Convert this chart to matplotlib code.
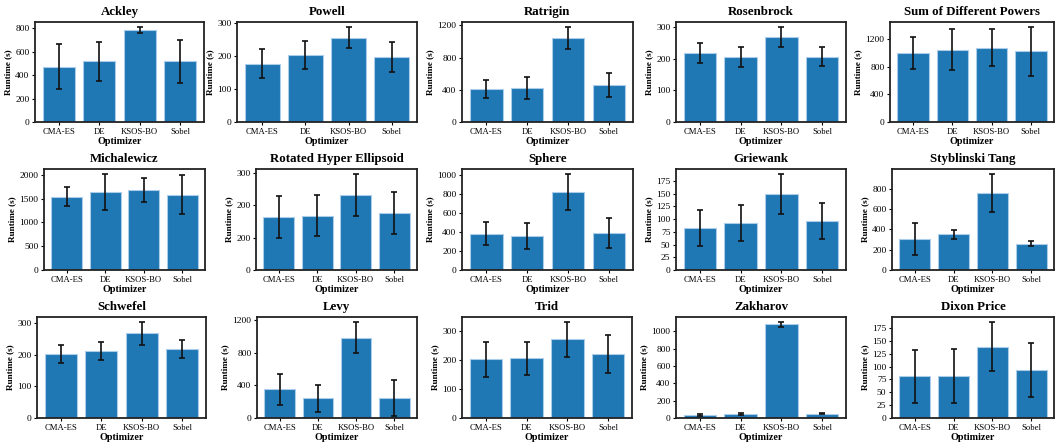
import matplotlib
matplotlib.use("Agg")
import matplotlib.pyplot as plt

plt.rcParams['font.family'] = ['Liberation Serif', 'DejaVu Serif']

optimizers = ['CMA-ES', 'DE', 'KSOS-BO', 'Sobel']

benchmarks = ['Ackley', 'Powell', 'Ratrigin', 'Rosenbrock', 'Sum of Different Powers',
              'Michalewicz', 'Rotated Hyper Ellipsoid', 'Sphere', 'Griewank', 'Styblinski Tang',
              'Schwefel', 'Levy', 'Trid', 'Zakharov', 'Dixon Price']

# mean runtime (s) per optimizer
runtime_mean = [
    [471, 519, 789, 519],
    [178, 203, 257, 198],
    [411, 423, 1042, 461],
    [219, 205, 269, 207],
    [994, 1046, 1075, 1022],
    [1539, 1645, 1688, 1582],
    [164, 168, 232, 178],
    [384, 359, 822, 391],
    [82, 92, 150, 96],
    [302, 349, 757, 259],
    [204, 213, 269, 219],
    [354, 242, 988, 242],
    [202, 206, 272, 220],
    [35, 47, 1082, 51],
    [81, 82, 139, 93],
]

# error bar half-lengths
runtime_std = [
    [192, 165, 25, 185],
    [44, 43, 33, 46],
    [112, 137, 141, 150],
    [31, 32, 32, 29],
    [231, 293, 269, 353],
    [199, 376, 252, 415],
    [65, 64, 66, 65],
    [123, 141, 191, 161],
    [35, 35, 39, 35],
    [158, 47, 188, 24],
    [29, 29, 36, 29],
    [190, 165, 194, 223],
    [59, 58, 60, 65],
    [8, 10, 30, 6],
    [51, 52, 48, 52],
]

y_ticks = [
    [0, 200, 400, 600, 800],
    [0, 100, 200, 300],
    [0, 400, 800, 1200],
    [0, 100, 200, 300],
    [0, 400, 800, 1200],
    [0, 500, 1000, 1500, 2000],
    [0, 100, 200, 300],
    [0, 200, 400, 600, 800, 1000],
    [0, 25, 50, 75, 100, 125, 150, 175],
    [0, 200, 400, 600, 800],
    [0, 100, 200, 300],
    [0, 400, 800, 1200],
    [0, 100, 200, 300],
    [0, 200, 400, 600, 800, 1000],
    [0, 25, 50, 75, 100, 125, 150, 175],
]

# the reference shows these labels on the Rotated Hyper Ellipsoid axis
rhe_tick_labels = ['0', '200', '200', '300']

W, H = 1058, 443
# panel frames in pixels: (left, right) per panel, (top, bottom) per row
col_edges = [
    [(35, 204), (237, 417), (462, 633), (676, 846), (890, 1054)],
    [(44, 205), (256, 417), (462, 633), (676, 846), (892, 1054)],
    [(37, 206), (257, 417), (462, 632), (676, 846), (892, 1054)],
]
row_edges = [(22, 122), (169, 270), (317, 418)]

fig = plt.figure(figsize=(W / 100, H / 100), dpi=100)

for i in range(len(benchmarks)):
    r, c = divmod(i, 5)
    x0, x1 = col_edges[r][c]
    y0, y1 = row_edges[r]
    ax = fig.add_axes([x0 / W, 1 - y1 / H, (x1 - x0) / W, (y1 - y0) / H])
    ax.bar(optimizers, runtime_mean[i], yerr=runtime_std[i], width=0.8,
           color='#1f77b4', edgecolor='#a9cdea', linewidth=0.8,
           capsize=2.5, error_kw=dict(ecolor='#111111', elinewidth=1.2, capthick=1.2))
    ax.set_title(benchmarks[i], fontsize=9.3, fontweight='bold', pad=5)
    ax.set_xlabel('Optimizer', fontsize=7.3, fontweight='bold', labelpad=1)
    ax.set_ylabel('Runtime (s)', fontsize=6.6, fontweight='bold', labelpad=2)
    ax.set_yticks(y_ticks[i])
    if benchmarks[i] == 'Rotated Hyper Ellipsoid':
        ax.set_yticklabels(rhe_tick_labels)
    ax.tick_params(axis='x', labelsize=6.2, length=2.5, width=0.8, pad=1.5)
    ax.tick_params(axis='y', labelsize=6.8, length=2.5, width=0.8, pad=1.5)
    for sp in ax.spines.values():
        sp.set_linewidth(1.3)
        sp.set_color('#222222')

plt.savefig('out.png', dpi=100)
